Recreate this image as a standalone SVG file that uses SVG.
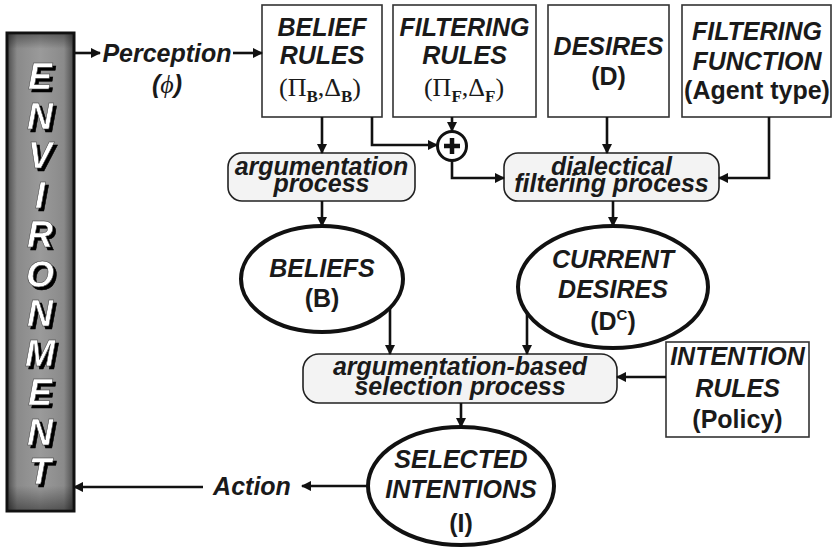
<svg xmlns="http://www.w3.org/2000/svg" width="833" height="547" viewBox="0 0 833 547">
<defs>
<marker id="ah" viewBox="0 0 10 10" refX="9" refY="5" markerWidth="4" markerHeight="4" orient="auto" markerUnits="strokeWidth">
<path d="M0,0 L10,5 L0,10 z" fill="#111"/>
</marker>
<linearGradient id="envH" x1="0" y1="0" x2="1" y2="0">
<stop offset="0" stop-color="#4a4a4a"/>
<stop offset="0.15" stop-color="#8a8a8a"/>
<stop offset="0.5" stop-color="#9a9a9a"/>
<stop offset="0.85" stop-color="#8a8a8a"/>
<stop offset="1" stop-color="#4a4a4a"/>
</linearGradient>
<linearGradient id="envV" x1="0" y1="0" x2="0" y2="1">
<stop offset="0" stop-color="#000" stop-opacity="0.35"/>
<stop offset="0.03" stop-color="#000" stop-opacity="0"/>
<stop offset="0.95" stop-color="#000" stop-opacity="0"/>
<stop offset="1" stop-color="#000" stop-opacity="0.4"/>
</linearGradient>
<filter id="shadow" x="-20%" y="-20%" width="160%" height="160%">
<feOffset in="SourceAlpha" dx="2.5" dy="2.5" result="off"/>
<feFlood flood-color="#000"/>
<feComposite in2="off" operator="in" result="sh"/>
<feMerge><feMergeNode in="sh"/><feMergeNode in="SourceGraphic"/></feMerge>
</filter>
</defs>
<style>
text{font-family:"Liberation Sans",Arial,sans-serif;font-weight:bold;font-size:25px;fill:#1a1a1a;text-anchor:middle}
.i{font-style:italic}
.env{font-size:36px;font-style:italic;fill:#fff;stroke:#333;stroke-width:0.5}
.sym{font-family:"Liberation Serif","Times New Roman",serif;font-weight:normal;font-size:26px}
.sub{font-family:"Liberation Serif","Times New Roman",serif;font-weight:bold;font-size:17px}
.box{fill:#fff;stroke:#333;stroke-width:1.6}
.proc{fill:#f3f3f3;stroke:#222;stroke-width:1.6}
.ell{fill:#fff;stroke:#111;stroke-width:4}
.c{fill:none;stroke:#111;stroke-width:2.6;marker-end:url(#ah)}
</style>

<g id="environment">
<rect x="7" y="33" width="67" height="478" fill="url(#envH)" stroke="#111" stroke-width="3"/>
<rect x="8.5" y="34.5" width="64" height="475" fill="url(#envV)"/>
<g filter="url(#shadow)">
<text class="env" x="40" y="89">E</text>
<text class="env" x="40" y="128.5">N</text>
<text class="env" x="40" y="168">V</text>
<text class="env" x="40" y="207.5">I</text>
<text class="env" x="40" y="247">R</text>
<text class="env" x="40" y="286.5">O</text>
<text class="env" x="40" y="326">N</text>
<text class="env" x="40" y="365.5">M</text>
<text class="env" x="40" y="405">E</text>
<text class="env" x="40" y="444.5">N</text>
<text class="env" x="40" y="484">T</text>
</g>
</g>

<g id="perception">
<text class="i" x="167" y="62">Perception</text>
<text class="i" x="167" y="93">(<tspan class="sym" font-style="italic">ϕ</tspan>)</text>
</g>

<g id="belief-rules">
<rect class="box" x="262" y="5" width="120" height="112"/>
<text class="i" x="322" y="36">BELIEF</text>
<text class="i" x="322" y="64">RULES</text>
<text x="320" y="96" class="sym">(Π<tspan class="sub" dy="6">B</tspan><tspan dy="-6">,Δ</tspan><tspan class="sub" dy="6">B</tspan><tspan dy="-6">)</tspan></text>
</g>

<g id="filtering-rules">
<rect class="box" x="393" y="5" width="143" height="112"/>
<text class="i" x="464.5" y="36">FILTERING</text>
<text class="i" x="464.5" y="64">RULES</text>
<text x="464" y="96" class="sym">(Π<tspan class="sub" dy="6">F</tspan><tspan dy="-6">,Δ</tspan><tspan class="sub" dy="6">F</tspan><tspan dy="-6">)</tspan></text>
</g>

<g id="desires">
<rect class="box" x="548" y="5" width="121" height="112"/>
<text class="i" x="608.5" y="55">DESIRES</text>
<text x="608.5" y="85">(D)</text>
</g>

<g id="filtering-function">
<rect class="box" x="682" y="5" width="149" height="112"/>
<text class="i" x="757" y="40">FILTERING</text>
<text class="i" x="757" y="70">FUNCTION</text>
<text x="757" y="99">(Agent type)</text>
</g>

<g id="plus">
<circle cx="452" cy="146" r="14.5" fill="#fff" stroke="#111" stroke-width="3"/>
<path d="M444,146 H460 M452,138 V154" stroke="#111" stroke-width="4.5"/>
</g>

<g id="argumentation-process">
<rect class="proc" x="228" y="153" width="187" height="48" rx="14"/>
<text class="i" x="321.5" y="175">argumentation</text>
<text class="i" x="321.5" y="192">process</text>
</g>

<g id="dialectical-filtering-process">
<rect class="proc" x="504" y="153" width="215" height="48" rx="14"/>
<text class="i" x="611.5" y="175">dialectical</text>
<text class="i" x="611.5" y="192">filtering process</text>
</g>

<g id="beliefs">
<ellipse class="ell" cx="322" cy="279" rx="81" ry="53"/>
<text class="i" x="322" y="277">BELIEFS</text>
<text x="322" y="307">(B)</text>
</g>

<g id="current-desires">
<ellipse class="ell" cx="613" cy="287" rx="95" ry="61"/>
<text class="i" x="613" y="268">CURRENT</text>
<text class="i" x="613" y="298">DESIRES</text>
<text x="613" y="330">(D<tspan font-size="15" dy="-10">C</tspan><tspan dy="10">)</tspan></text>
</g>

<g id="selection-process">
<rect class="proc" x="303" y="354" width="314" height="49" rx="16"/>
<text class="i" x="460" y="375">argumentation-based</text>
<text class="i" x="460" y="395">selection process</text>
</g>

<g id="intention-rules">
<rect class="box" x="666" y="342" width="143" height="95"/>
<text class="i" x="737.5" y="365">INTENTION</text>
<text class="i" x="737.5" y="397">RULES</text>
<text x="737.5" y="428">(Policy)</text>
</g>

<g id="selected-intentions">
<ellipse class="ell" cx="461" cy="486" rx="93" ry="59"/>
<text class="i" x="461" y="468">SELECTED</text>
<text class="i" x="461" y="498">INTENTIONS</text>
<text x="461" y="532">(I)</text>
</g>

<g id="action">
<text class="i" x="252" y="495">Action</text>
</g>

<g id="connectors">
<path class="c" d="M74,53 H100"/>
<path class="c" d="M233,53 H262"/>
<path class="c" d="M322,117 V153"/>
<path class="c" d="M372,117 V145 H437"/>
<path class="c" d="M452,117 V131"/>
<path class="c" d="M452,160.5 V178 H504"/>
<path class="c" d="M607,117 V153"/>
<path class="c" d="M769,117 V178 H719"/>
<path class="c" d="M322,201 V226"/>
<path class="c" d="M613,201 V226"/>
<path class="c" d="M390,308 V354"/>
<path class="c" d="M527,313 V354"/>
<path class="c" d="M666,377 H617"/>
<path class="c" d="M461,403 V427"/>
<path class="c" d="M368,486 H302"/>
<path class="c" d="M203,487 H74"/>
</g>
</svg>
